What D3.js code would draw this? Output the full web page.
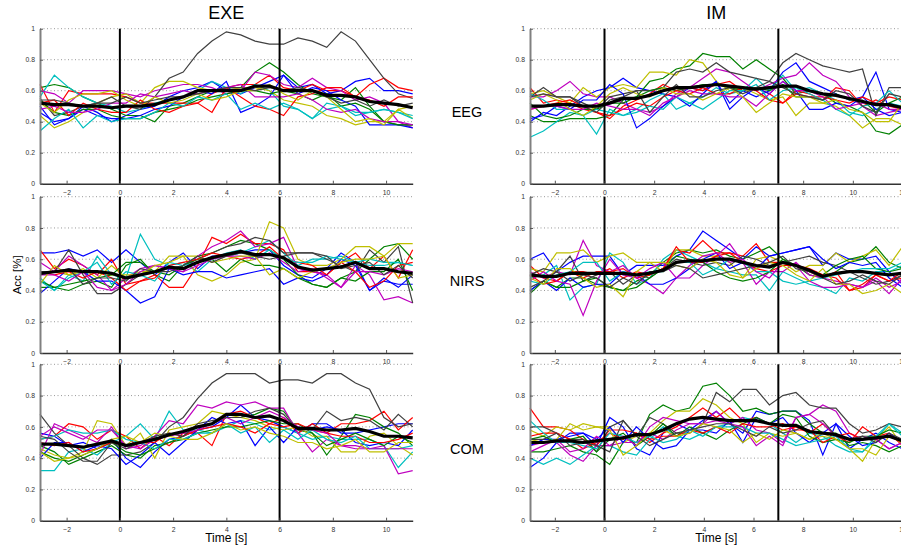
<!DOCTYPE html>
<html>
<head>
<meta charset="utf-8">
<script src="https://cdn.jsdelivr.net/npm/d3@7"></script>
<style>
  body { margin: 0; background: #fff; }
  svg { font-family: "Liberation Sans", Arial, sans-serif; }
  .tick text { font-size: 6.8px; fill: #333; }
  .axis line { stroke: #555; }
</style>
</head>
<body>
<svg id="chart" width="901" height="548"></svg>
<script>
var w = 901;
var h = 548;

// time points (s) of the sliding windows
var timeExe = [-3, -2.46, -1.92, -1.38, -0.85, -0.31, 0.23, 0.77, 1.31, 1.85, 2.38, 2.92, 3.46, 4.0,
               4.54, 5.08, 5.62, 6.15, 6.69, 7.23, 7.77, 8.31, 8.85, 9.38, 9.92, 10.46, 11];
var timeIm = [-3, -2.46, -1.93, -1.39, -0.86, -0.32, 0.21, 0.75, 1.29, 1.82, 2.36, 2.89, 3.43, 3.96,
              4.5, 5.04, 5.57, 6.11, 6.64, 7.18, 7.71, 8.25, 8.79, 9.32, 9.86, 10.39, 10.93, 11.46, 12];

var colTitles = ["EXE", "IM"];
var rowLabels = ["EEG", "NIRS", "COM"];
var taskLines = [[0, 6], [0, 7]];   // task onset / offset
var yTicks = [0, 0.2, 0.4, 0.6, 0.8, 1];
var xTicks = [-2, 0, 2, 4, 6, 8, 10, 12];

// matlab line colour order, two subjects per colour
var lineColors = ["#0000ff", "#008000", "#ff0000", "#00bfbf", "#bf00bf", "#bfbf00", "#404040"];

// accuracies in hundredths, one row per subject
var exeEEG = [
  [50,38,42,50,46,40,44,48,50,56,60,62,66,60,58,62,66,70,62,64,58,60,66,68,60,60,58],
  [62,64,62,56,52,48,44,44,40,50,52,56,60,62,62,72,78,72,64,58,56,54,62,50,40,38,38],
  [64,46,60,58,58,58,56,52,52,52,52,52,58,62,64,64,70,62,60,64,60,60,56,64,68,62,60],
  [56,70,62,56,52,50,46,48,52,54,56,60,66,62,58,64,60,50,48,42,48,50,46,46,48,46,44],
  [60,58,52,60,60,60,58,56,60,62,64,64,62,58,60,72,70,64,62,68,62,60,54,56,52,40,36],
  [44,36,40,46,52,56,58,52,62,66,66,62,60,60,62,62,60,54,52,50,44,42,38,40,40,48,42],
  [55,44,46,50,52,56,50,48,56,68,72,84,92,98,96,92,90,90,94,92,88,98,92,80,68,58,55],
  [46,40,42,48,44,42,42,44,48,50,56,60,58,66,46,50,56,70,58,62,60,54,50,38,38,38,36],
  [54,46,44,48,48,44,42,42,46,48,50,54,56,58,60,60,58,60,58,54,58,50,52,48,40,38,38],
  [52,54,44,52,48,46,46,54,48,46,50,52,46,62,56,50,48,44,56,58,62,62,56,54,50,56,56],
  [34,42,48,36,44,40,42,42,46,52,50,56,54,58,48,52,48,52,48,42,52,50,44,46,48,46,42],
  [48,50,46,46,48,52,52,58,56,58,60,58,60,62,64,56,56,56,58,54,48,46,48,42,40,40,38],
  [52,46,54,58,58,60,54,50,56,52,54,58,54,56,60,60,64,58,54,60,56,48,40,42,38,48,50],
  [54,54,52,50,52,52,56,52,54,56,56,58,60,62,62,60,62,60,62,60,56,52,54,50,54,50,52]
];
var exeEEGMean = [52,51,51,50,50,49,50,50,51,54,56,60,60,60,60,63,63,60,60,60,57,57,56,53,52,51,49];

var imEEG = [
  [40,46,44,50,56,60,62,68,62,60,58,56,62,60,66,52,60,56,60,72,78,66,62,58,54,56,72,48,46],
  [44,40,40,42,42,42,44,54,56,66,68,74,76,84,82,82,74,80,74,68,58,60,58,52,50,46,34,32,38],
  [62,52,54,52,48,46,42,50,54,58,64,60,62,60,64,66,60,62,58,52,60,58,54,62,60,50,54,50,48],
  [30,34,40,46,44,32,48,44,48,54,58,48,52,56,62,58,60,68,60,70,60,62,58,54,46,44,48,52,50],
  [56,56,60,66,58,56,56,52,48,46,50,58,62,68,74,72,66,60,64,68,70,78,70,66,56,50,44,46,48],
  [58,60,56,52,62,56,62,64,62,72,72,70,80,78,66,60,62,58,54,56,44,52,52,50,44,36,42,42,38],
  [56,62,56,56,52,48,56,58,60,60,62,72,74,72,78,72,70,68,66,78,84,80,76,74,72,74,44,62,62],
  [42,44,50,48,54,54,64,58,36,42,50,56,50,58,66,48,56,62,58,66,60,48,48,52,50,56,48,44,46],
  [52,44,42,44,48,48,52,52,56,60,62,60,62,64,64,62,60,62,60,64,56,56,54,58,54,54,46,52,56],
  [48,50,52,54,50,46,44,48,52,50,56,60,58,62,58,58,62,60,54,52,58,56,56,54,52,56,52,56,54],
  [58,54,48,48,44,48,46,44,46,50,48,56,52,48,54,60,60,64,54,60,62,58,54,48,44,50,52,60,52],
  [48,50,50,48,48,52,50,48,48,44,52,56,60,58,58,56,56,50,58,66,60,60,56,48,50,52,52,48,48],
  [54,58,54,48,44,50,58,62,58,56,62,58,58,54,58,62,56,46,52,58,56,56,52,54,48,46,40,40,52],
  [56,58,56,56,50,46,54,56,60,46,56,64,56,56,60,62,58,62,66,62,58,56,54,60,58,50,46,58,56]
];
var imEEGMean = [50,50,51,51,50,50,52,55,55,57,60,62,62,63,64,63,62,61,62,63,63,60,58,57,55,53,51,51,49];

var exeNIRS = [
  [64,64,66,62,66,58,66,58,50,58,64,54,62,62,64,66,66,56,50,48,54,64,58,40,46,44,44],
  [42,42,40,44,46,42,56,60,50,46,56,62,64,68,72,70,66,60,50,44,42,48,52,60,68,70,60],
  [66,54,60,56,50,60,44,46,50,42,42,56,74,70,76,70,70,66,52,52,50,58,64,54,62,48,66],
  [48,40,50,46,62,50,48,76,60,56,58,52,60,62,64,68,72,64,56,60,60,62,58,56,56,58,56],
  [58,52,62,56,50,40,48,54,56,54,52,62,68,72,78,68,70,74,54,52,50,42,56,50,34,36,32],
  [52,52,50,54,48,56,48,52,52,62,62,50,46,50,58,60,84,80,60,56,56,60,68,68,62,70,70],
  [50,52,66,50,38,38,44,50,52,54,56,60,64,68,70,74,72,64,64,64,60,56,52,66,58,68,32],
  [38,46,54,52,46,46,40,32,36,54,50,52,52,48,50,52,54,44,48,46,50,60,56,40,48,42,50],
  [46,42,44,46,48,50,58,58,52,50,56,60,60,52,60,56,56,54,48,44,42,48,46,52,52,60,40],
  [52,50,52,48,52,48,40,46,48,56,58,60,64,62,60,62,68,60,58,56,50,58,52,42,46,56,58],
  [46,40,48,52,58,44,52,50,46,58,56,58,60,64,66,60,66,60,58,58,62,60,58,60,58,58,56],
  [50,50,46,52,42,40,44,52,56,54,52,56,60,62,62,60,64,58,52,54,48,42,52,52,50,54,52],
  [44,56,50,52,52,50,50,50,56,58,62,62,58,60,62,62,50,54,48,52,54,58,60,60,62,48,50],
  [52,52,54,44,48,48,46,54,52,52,56,62,58,62,64,62,60,62,64,64,62,54,56,58,50,56,48]
];
var exeNIRSMean = [51,52,53,52,52,51,48,50,52,55,54,58,61,63,65,63,63,61,55,53,54,55,58,54,54,52,51];

var imNIRS = [
  [60,64,52,58,62,62,62,50,56,56,56,62,66,78,72,66,60,68,62,64,66,68,56,64,60,60,62,52,44],
  [40,46,42,48,48,44,42,40,46,50,58,64,66,64,66,62,60,64,68,60,56,50,48,52,58,60,68,58,54],
  [56,48,46,52,52,50,54,48,52,50,54,66,64,72,64,64,62,70,58,58,56,52,48,52,40,42,50,46,48],
  [48,50,56,34,42,44,64,58,44,48,60,66,62,58,54,52,50,50,40,52,48,44,42,38,48,46,52,52,56],
  [52,48,52,50,72,56,52,56,48,44,38,48,48,56,62,70,58,44,52,52,58,50,48,46,44,42,46,38,48],
  [54,52,64,64,66,58,62,64,58,58,52,66,66,62,62,58,48,60,62,58,52,56,56,64,58,62,66,56,68],
  [50,54,52,62,46,50,52,44,50,48,54,60,58,56,58,56,62,60,56,58,60,62,58,56,52,48,44,46,50],
  [40,46,40,48,42,44,44,52,50,44,44,48,54,60,64,54,58,54,62,64,66,68,60,54,58,56,58,48,42],
  [38,46,42,42,46,48,42,40,42,48,54,62,60,58,52,48,46,48,52,60,56,52,50,56,60,62,54,52,54],
  [50,44,46,52,48,52,52,54,48,50,54,68,58,58,62,64,58,54,52,56,56,54,50,48,40,44,50,46,52],
  [46,44,50,52,58,58,46,52,50,52,52,58,58,50,54,60,58,52,52,46,44,46,48,50,52,54,54,54,58],
  [46,52,46,44,24,46,60,50,48,54,58,48,56,62,64,58,60,52,48,58,56,46,42,42,44,42,48,42,46],
  [48,44,54,54,48,42,44,36,52,58,58,56,54,60,58,50,48,54,58,56,50,46,54,44,44,38,40,44,38],
  [42,46,52,46,50,48,42,48,44,52,52,56,54,48,50,52,54,56,58,62,54,52,48,44,46,50,46,44,50]
];
var imNIRSMean = [50,49,49,51,51,51,51,51,50,51,53,58,59,59,60,60,58,56,55,58,56,53,49,51,52,52,51,50,51];

var exeCOM = [
  [56,54,48,50,46,52,40,34,44,52,54,58,60,66,74,66,64,60,56,62,62,56,56,58,60,62,62],
  [48,44,36,40,44,48,42,40,48,50,54,60,62,66,66,68,72,70,58,56,42,54,68,66,60,56,48],
  [52,54,62,60,52,58,54,46,54,48,56,56,48,68,70,66,62,66,56,62,56,62,62,64,70,58,66],
  [32,32,44,46,42,50,54,62,52,70,58,58,56,60,64,62,58,60,56,52,54,52,52,52,48,34,44],
  [42,62,58,54,50,60,46,48,54,64,62,74,72,76,74,76,72,72,56,44,52,48,46,46,48,30,32],
  [46,42,40,44,64,62,48,56,40,58,60,62,70,68,66,64,60,58,60,54,54,44,44,54,56,48,42],
  [68,56,48,40,36,42,42,44,50,60,66,78,88,94,94,94,88,90,90,88,94,94,88,84,66,60,62],
  [40,50,50,44,48,46,36,42,50,42,50,58,66,62,64,48,60,50,60,58,60,58,50,48,50,48,58],
  [44,40,38,42,46,50,44,42,46,50,52,56,58,60,60,62,64,62,62,56,48,52,56,52,48,54,50],
  [50,48,50,44,46,50,48,50,50,56,54,58,60,62,60,56,62,60,62,58,56,54,54,50,50,52,56],
  [52,54,58,56,56,58,52,50,46,52,52,56,56,62,56,60,50,58,52,58,52,50,54,46,46,46,48],
  [54,60,56,52,58,58,48,46,52,54,56,58,62,66,62,66,70,66,60,58,56,48,48,46,46,46,46],
  [44,38,40,42,46,52,54,50,56,54,52,52,56,62,58,60,56,54,50,50,46,48,52,44,44,50,50],
  [54,52,44,38,38,50,46,50,54,56,54,62,64,66,66,70,72,68,58,58,70,64,66,64,58,68,60]
];
var exeCOMMean = [49,49,48,47,49,51,48,50,52,55,57,60,62,68,68,66,67,64,59,59,58,58,59,57,54,54,53];

var imCOM = [
  [34,40,50,56,56,48,66,60,46,42,56,62,58,64,70,62,56,70,68,70,70,64,42,62,46,52,56,50,46],
  [44,44,46,48,44,42,36,50,50,68,74,70,72,86,88,80,70,72,68,70,70,62,56,56,48,50,48,44,48],
  [72,60,60,58,52,48,58,58,56,50,56,60,66,72,66,72,64,66,62,58,60,56,62,54,50,60,54,56,48],
  [40,36,40,36,42,48,48,44,42,52,60,54,52,56,60,62,66,64,62,56,50,56,54,48,44,44,52,62,56],
  [48,50,50,42,38,48,48,50,50,56,52,58,62,62,70,62,66,58,56,50,66,68,74,70,56,52,52,46,50],
  [58,54,60,58,62,60,60,50,54,56,64,70,70,78,74,66,62,50,56,54,56,52,54,52,46,38,52,60,48],
  [60,60,56,52,52,44,60,64,54,66,62,56,56,62,82,76,84,84,74,80,82,74,72,72,62,56,58,62,60],
  [48,52,52,54,56,52,60,50,60,52,46,48,58,58,56,64,50,66,62,66,56,50,56,62,54,48,50,56,50],
  [52,54,50,52,54,44,52,56,48,54,62,54,60,56,52,58,62,66,62,68,66,54,50,52,50,54,54,58,56],
  [54,56,56,52,46,50,56,52,56,52,54,54,58,56,60,56,62,60,60,62,58,58,50,54,56,52,52,54,50],
  [64,56,50,50,48,46,56,54,50,54,50,52,58,54,60,60,60,56,56,52,48,50,52,54,46,44,54,62,54],
  [44,48,52,44,46,54,48,54,48,60,66,64,62,62,64,62,60,48,54,48,66,68,62,54,52,54,52,46,50],
  [52,50,52,62,58,60,58,42,48,56,58,54,56,62,60,58,50,56,52,58,56,52,56,52,46,46,42,54,50],
  [52,52,56,48,50,48,44,64,54,48,52,56,58,60,62,62,58,54,60,56,58,62,64,54,52,54,50,56,52]
];
var imCOMMean = [50,50,51,51,50,51,52,53,55,55,58,62,65,66,65,64,64,64,62,61,61,57,56,55,52,52,53,54,51];

// layout
var colX = [[40, 412.7], [530, 902.5]];
var rowY = [[28.7, 183.7], [196.7, 353], [364.3, 520.7]];
var domains = [[-3, 11], [-3, 12]];

var panels = [
  {col: 0, row: 0, subj: exeEEG, mean: exeEEGMean},
  {col: 1, row: 0, subj: imEEG, mean: imEEGMean},
  {col: 0, row: 1, subj: exeNIRS, mean: exeNIRSMean},
  {col: 1, row: 1, subj: imNIRS, mean: imNIRSMean},
  {col: 0, row: 2, subj: exeCOM, mean: exeCOMMean},
  {col: 1, row: 2, subj: imCOM, mean: imCOMMean}
];

var svg = d3.select("#chart");

panels.forEach(function(p){
  var times = p.col == 0 ? timeExe : timeIm;
  var x = d3.scaleLinear().domain(domains[p.col]).range(colX[p.col]);
  var y = d3.scaleLinear().domain([0, 1]).range([rowY[p.row][1], rowY[p.row][0]]);
  var g = svg.append("g");

  // dotted grid
  g.selectAll(".grid")
    .data(yTicks.slice(1))
    .enter()
    .append("line")
    .attr("x1", colX[p.col][0])
    .attr("x2", colX[p.col][1])
    .attr("y1", function(d){ return y(d); })
    .attr("y2", function(d){ return y(d); })
    .style("stroke", "#999")
    .style("stroke-width", 1)
    .style("stroke-dasharray", "1,2.5");

  var line = d3.line()
    .x(function(d, i){ return x(times[i]); })
    .y(function(d){ return y(d / 100); });

  g.selectAll(".subj")
    .data(p.subj)
    .enter()
    .append("path")
    .attr("d", line)
    .style("fill", "none")
    .style("stroke", function(d, i){ return lineColors[i % 7]; })
    .style("stroke-width", 1.2);

  // task onset / offset
  g.selectAll(".task")
    .data(taskLines[p.col])
    .enter()
    .append("line")
    .attr("x1", function(d){ return x(d); })
    .attr("x2", function(d){ return x(d); })
    .attr("y1", y(0))
    .attr("y2", y(1))
    .style("stroke", "#000")
    .style("stroke-width", 2);

  g.append("path")
    .attr("d", line(p.mean))
    .style("fill", "none")
    .style("stroke", "#000")
    .style("stroke-width", 3.2);

  var xa = g.append("g")
    .attr("class", "axis")
    .attr("transform", "translate(0," + y(0) + ")")
    .call(d3.axisBottom(x).tickValues(xTicks.filter(function(t){ return t <= domains[p.col][1]; }))
      .tickSizeInner(-3).tickSizeOuter(0).tickPadding(6));
  xa.select(".domain").style("stroke", "#333").style("stroke-width", 1.5);

  var ya = g.append("g")
    .attr("class", "axis")
    .attr("transform", "translate(" + colX[p.col][0] + ",0)")
    .call(d3.axisLeft(y).tickValues(yTicks).tickFormat(d3.format("~g"))
      .tickSizeInner(-3).tickSizeOuter(0).tickPadding(5));
  ya.select(".domain").style("stroke", "#808080").style("stroke-width", 2);
});

// column titles
svg.selectAll(".colTitle")
  .data(colTitles)
  .enter()
  .append("text")
  .attr("x", function(d, i){ return (colX[i][0] + colX[i][0] + 372.5) / 2; })
  .attr("y", 19)
  .attr("text-anchor", "middle")
  .style("font-size", "18px")
  .text(function(d){ return d; });

// row labels between columns
svg.selectAll(".rowLabel")
  .data(rowLabels)
  .enter()
  .append("text")
  .attr("x", 467)
  .attr("y", function(d, i){ return (rowY[i][0] + rowY[i][1]) / 2 + 11; })
  .attr("text-anchor", "middle")
  .style("font-size", "14.5px")
  .text(function(d){ return d; });

svg.append("text")
  .attr("transform", "translate(21," + ((rowY[1][0] + rowY[1][1]) / 2) + ") rotate(-90)")
  .attr("text-anchor", "middle")
  .style("font-size", "11.5px")
  .text("Acc [%]");

svg.selectAll(".xlabel")
  .data([0, 1])
  .enter()
  .append("text")
  .attr("x", function(i){ return (colX[i][0] + colX[i][0] + 372.5) / 2; })
  .attr("y", 542)
  .attr("text-anchor", "middle")
  .style("font-size", "12px")
  .text("Time [s]");
</script>
</body>
</html>
